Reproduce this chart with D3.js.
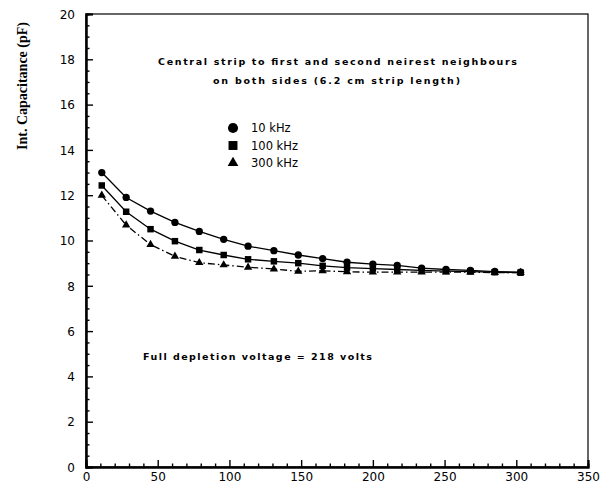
<!DOCTYPE html>
<html>
<head>
<meta charset="utf-8">
<script src="https://cdn.jsdelivr.net/npm/d3@7"></script>
<style>
  html, body { margin: 0; padding: 0; background: #fff; }
  svg { display: block; }
</style>
</head>
<body>
<svg id="chart" width="612" height="486"></svg>
<script>
// Bias voltage (V) of each measurement
const voltage = [11, 28, 45, 62, 79, 96, 113, 131, 148, 165, 182, 200, 217, 234, 251, 268, 285, 303];
// Interstrip capacitance (pF) at each frequency
const cap10k  = [13.0, 11.9, 11.3, 10.8, 10.4, 10.05, 9.75, 9.55, 9.36, 9.2, 9.04, 8.96, 8.9, 8.78, 8.72, 8.68, 8.63, 8.6];
const cap100k = [12.43, 11.27, 10.5, 9.97, 9.58, 9.36, 9.17, 9.08, 9.0, 8.88, 8.8, 8.76, 8.72, 8.68, 8.65, 8.63, 8.6, 8.58];
const cap300k = [11.99, 10.68, 9.82, 9.3, 9.02, 8.92, 8.82, 8.74, 8.64, 8.66, 8.62, 8.6, 8.6, 8.6, 8.6, 8.6, 8.58, 8.58];
const seriesNames = ["10 kHz", "100 kHz", "300 kHz"];
const xTicks = [0, 50, 100, 150, 200, 250, 300, 350];
const yTicks = [0, 2, 4, 6, 8, 10, 12, 14, 16, 18, 20];
const titleLines = ["Central strip to first and second neirest neighbours", "on both sides (6.2 cm strip length)"];
const noteText = "Full depletion voltage = 218 volts";
const yLabel = "Int. Capacitance (pF)";

const svg = d3.select("#chart");
const L = 86, R = 588, T = 14, B = 467;

const x = d3.scaleLinear().domain([0, 350]).range([L, R]);
const y = d3.scaleLinear().domain([0, 20]).range([B, T]);

const tickFont = "'DejaVu Sans', sans-serif";
const boldFont = "'DejaVu Sans', sans-serif";

// frame (top and right edges)
svg.append("rect")
  .attr("x", L).attr("y", T).attr("width", R - L).attr("height", B - T)
  .attr("fill", "none").attr("stroke", "#000").attr("stroke-width", 1.2);

// minor ticks
const xMinor = d3.range(0, 351, 10).filter(v => v % 50 !== 0);
const yMinor = d3.range(0, 20.01, 0.5).filter(v => Math.abs(v % 2) > 1e-6);

const xAxis = svg.append("g").attr("transform", `translate(0,${B})`)
  .call(d3.axisBottom(x).tickValues(xTicks).tickSize(-7).tickPadding(5).tickFormat(d3.format("d")));
const xAxisMinor = svg.append("g").attr("transform", `translate(0,${B})`)
  .call(d3.axisBottom(x).tickValues(xMinor).tickSize(-3.5).tickFormat(""));
const yAxis = svg.append("g").attr("transform", `translate(${L},0)`)
  .call(d3.axisLeft(y).tickValues(yTicks).tickSize(-7).tickPadding(11).tickFormat(d3.format("d")));
const yAxisMinor = svg.append("g").attr("transform", `translate(${L},0)`)
  .call(d3.axisLeft(y).tickValues(yMinor).tickSize(-3.5).tickFormat(""));

[xAxis, xAxisMinor, yAxis, yAxisMinor].forEach(g => {
  g.select(".domain").attr("stroke", "#000").attr("stroke-width", 2);
  g.selectAll(".tick line").attr("stroke", "#000").attr("stroke-width", 1.4);
  g.selectAll("text").attr("font-family", tickFont).attr("font-size", 12).attr("fill", "#000");
});
yAxis.selectAll("text").attr("dy", "0.35em");

// series
const series = [
  { name: seriesNames[0], values: cap10k,  dash: null,         marker: "circle" },
  { name: seriesNames[1], values: cap100k, dash: null,         marker: "square" },
  { name: seriesNames[2], values: cap300k, dash: "7,3,1.5,3",  marker: "triangle" }
];
const symbolType = { circle: d3.symbolCircle, square: d3.symbolSquare, triangle: d3.symbolTriangle };
const symbolSize = { circle: 42, square: 42, triangle: 30 };

const line = d3.line().x(d => x(d[0])).y(d => y(d[1]));

series.slice().reverse().forEach(s => {
  const pts = voltage.map((v, i) => [v, s.values[i]]);
  svg.append("path")
    .datum(pts)
    .attr("d", line)
    .attr("fill", "none")
    .attr("stroke", "#000")
    .attr("stroke-width", 1.3)
    .attr("stroke-dasharray", s.dash);
  svg.append("g").selectAll("path")
    .data(pts)
    .join("path")
    .attr("transform", d => `translate(${x(d[0])},${y(d[1])})`)
    .attr("d", d3.symbol().type(symbolType[s.marker]).size(symbolSize[s.marker]))
    .attr("fill", "#000");
});

// legend
const legend = svg.append("g").attr("transform", "translate(233,128)");
series.forEach((s, i) => {
  const g = legend.append("g").attr("transform", `translate(0,${i * 17.5})`);
  g.append("path")
    .attr("d", d3.symbol().type(symbolType[s.marker]).size(s.marker === "triangle" ? 50 : 80))
    .attr("fill", "#000");
  g.append("text")
    .attr("x", 18).attr("y", 0).attr("dy", "0.35em")
    .attr("font-family", tickFont).attr("font-size", 11.5)
    .text(s.name);
});

// title block
const titleWidths = [359, 247];
svg.append("g").selectAll("text")
  .data(titleLines)
  .join("text")
  .attr("x", (d, i) => i === 0 ? 158 : 213)
  .attr("y", (d, i) => 65 + i * 19)
  .attr("font-family", boldFont)
  .attr("font-weight", "bold")
  .attr("font-size", 9.5)
  .attr("textLength", (d, i) => titleWidths[i])
  .attr("lengthAdjust", "spacing")
  .text(d => d);

// depletion voltage note
svg.append("text")
  .attr("x", 143).attr("y", 360)
  .attr("font-family", boldFont)
  .attr("font-weight", "bold")
  .attr("font-size", 9.5)
  .attr("textLength", 229)
  .attr("lengthAdjust", "spacing")
  .text(noteText);

// y axis title
svg.append("text")
  .attr("transform", "translate(27,86) rotate(-90)")
  .attr("text-anchor", "middle")
  .attr("font-family", "'Liberation Serif', serif")
  .attr("font-weight", "bold")
  .attr("font-size", 14)
  .text(yLabel);
</script>
</body>
</html>
